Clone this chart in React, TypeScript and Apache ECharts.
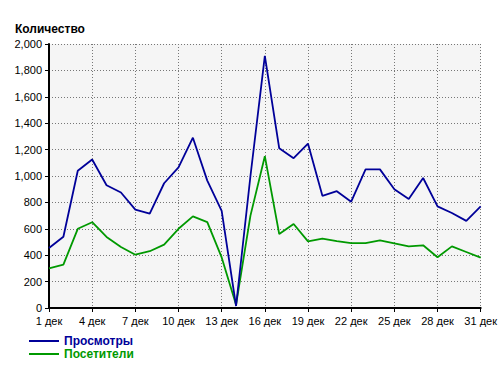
import React, { useEffect, useRef } from "react";
import * as echarts from "echarts";

const days: string[] = Array.from({ length: 31 }, (_, i) => `${i + 1} дек`);
const views: number[] = [
  455, 540, 1040, 1125, 930, 875, 745, 715, 945, 1065,
  1290, 965, 735, 15, 1000, 1910, 1210, 1135, 1245, 850,
  885, 805, 1050, 1050, 900, 825, 985, 770, 720, 660, 770,
];
const visitors: number[] = [
  300, 328, 600, 650, 538, 462, 404, 430, 480, 600,
  694, 650, 383, 25, 700, 1150, 560, 636, 505, 525,
  507, 492, 492, 512, 490, 467, 475, 384, 467, 424, 381,
];
const yMin = 0;
const yMax = 2000;
const yStep = 200;

const BLUE = "#000099";
const GREEN = "#009900";
const FONT = "Liberation Sans, Arial, sans-serif";

const legendBase = {
  orient: "horizontal",
  left: 29,
  itemWidth: 30,
  itemHeight: 2,
  icon: "rect",
  itemGap: 0,
  padding: 0,
};

export default function App() {
  const ref = useRef<HTMLDivElement>(null);
  useEffect(() => {
    if (!ref.current) return;
    const chart = echarts.init(ref.current, null, { renderer: "svg" });
    chart.setOption({
      animation: false,
      backgroundColor: "#ffffff",
      title: {
        text: "Количество",
        left: 10,
        top: 18,
        textStyle: { fontFamily: FONT, fontSize: 12, fontWeight: "bold", color: "#000" },
      },
      grid: {
        left: 49,
        right: 19,
        top: 44,
        bottom: 57,
        show: true,
        backgroundColor: "#f5f5f5",
        borderWidth: 0,
      },
      legend: [
        {
          ...legendBase,
          top: 335,
          data: ["Просмотры"],
          textStyle: { fontFamily: FONT, fontSize: 12, fontWeight: "bold", color: BLUE, lineHeight: 12 },
        },
        {
          ...legendBase,
          top: 348,
          data: ["Посетители"],
          textStyle: { fontFamily: FONT, fontSize: 12, fontWeight: "bold", color: GREEN, lineHeight: 12 },
        },
      ],
      xAxis: {
        type: "category",
        data: days,
        boundaryGap: false,
        axisLine: { show: true, lineStyle: { color: "#000", width: 2 } },
        axisTick: { show: true, interval: 2, length: 4, lineStyle: { color: "#000" } },
        axisLabel: {
          interval: 2,
          color: "#000",
          fontFamily: FONT,
          fontSize: 11,
          margin: 7,
        },
        splitLine: {
          show: true,
          interval: 2,
          lineStyle: { color: "#777", type: [1, 2], width: 1 },
        },
      },
      yAxis: {
        type: "value",
        min: yMin,
        max: yMax,
        interval: yStep,
        axisLine: { show: true, lineStyle: { color: "#000", width: 2 } },
        axisTick: { show: true, length: 4, lineStyle: { color: "#000" } },
        axisLabel: {
          color: "#000",
          fontFamily: FONT,
          fontSize: 11,
          margin: 7,
          formatter: (v: number) => v.toLocaleString("en-US"),
        },
        splitLine: {
          show: true,
          lineStyle: { color: "#777", type: [1, 2], width: 1 },
        },
      },
      series: [
        {
          name: "Просмотры",
          type: "line",
          data: views,
          showSymbol: false,
          symbol: "none",
          lineStyle: { color: BLUE, width: 1.8 },
          itemStyle: { color: BLUE },
          z: 3,
        },
        {
          name: "Посетители",
          type: "line",
          data: visitors,
          showSymbol: false,
          symbol: "none",
          lineStyle: { color: GREEN, width: 1.8 },
          itemStyle: { color: GREEN },
          z: 2,
        },
      ],
    });
    return () => chart.dispose();
  }, []);
  return (
    <div
      ref={ref}
      style={{ position: "fixed", left: 0, top: 0, width: 500, height: 365 }}
    />
  );
}
